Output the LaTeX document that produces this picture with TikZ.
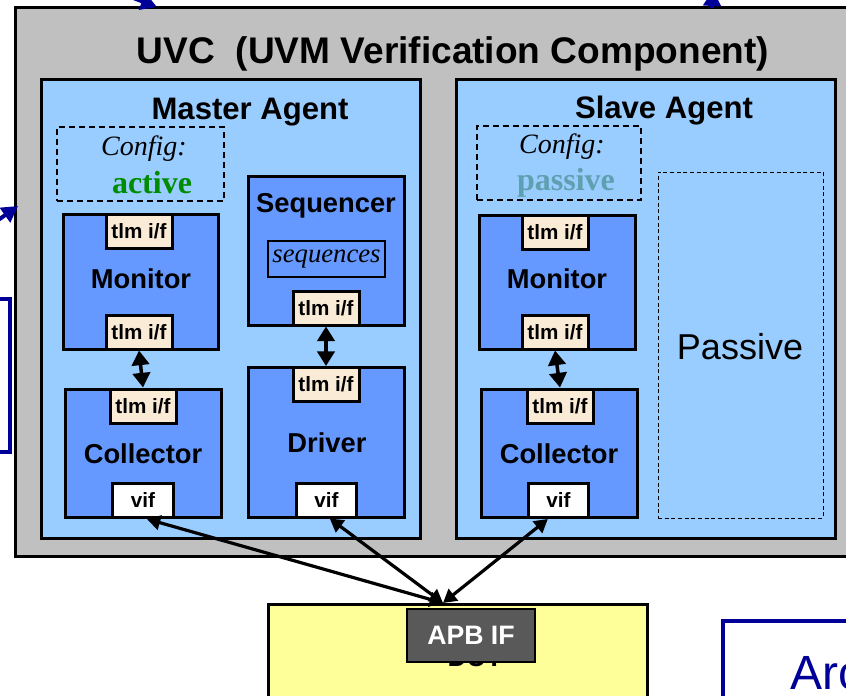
\documentclass[tikz,border=0pt]{standalone}
\usepackage{fontspec}
\setmainfont{Liberation Serif}
\setsansfont{Liberation Sans}
\usepackage{xcolor}
\usepackage{tikz}
\usetikzlibrary{arrows.meta,fit}
\definecolor{uvcgray}{HTML}{C0C0C0}
\definecolor{agentblue}{HTML}{99CCFF}
\definecolor{compblue}{HTML}{6699FF}
\definecolor{tlmcream}{HTML}{FAEBD7}
\definecolor{dutyellow}{HTML}{FFFF99}
\definecolor{apbgray}{HTML}{595959}
\definecolor{activegreen}{HTML}{008C00}
\definecolor{passiveteal}{HTML}{5FA0B0}
\definecolor{slideblue}{HTML}{000099}
\newcommand{\fs}[1]{\fontsize{#1}{#1}\selectfont}
\newcommand{\tlm}{tlm i/f}

\begin{document}
\begin{tikzpicture}[x=0.75pt,y=-0.75pt,
  frame/.style={draw,line width=2.25pt,inner sep=0pt},
  agent/.style={frame,fill=agentblue},
  comp/.style={frame,fill=compblue},
  cfgbox/.style={draw,line width=1.5pt,dash pattern=on 4.5pt off 3pt,inner sep=0pt},
  port/.style={frame,fill=tlmcream,minimum width=49.5pt,minimum height=25.5pt,
    font=\fs{15.5}\sffamily\bfseries},
  vifport/.style={port,fill=white,minimum width=45.5pt},
  lbl/.style={anchor=base,inner sep=0pt,font=\fs{20.5}\sffamily\bfseries},
  dbl/.style={line width=2.6pt,{Triangle[length=11pt,width=13pt]}-{Triangle[length=11pt,width=13pt]}},
  bus/.style={line width=2.4pt,{Triangle[length=10pt,width=11pt]}-{Triangle[length=10pt,width=11pt]}},
  slidearrow/.style={slideblue,line width=3pt,-{Triangle[length=12pt,width=13pt]}}]
\useasboundingbox (0,0) rectangle (846,696);
\clip (0,0) rectangle (846,696);

%% uvc
\node[frame,fill=uvcgray,fit={(15,7) (880,556)}] (uvc) {};
\node[lbl,font=\fs{27.8}\sffamily\bfseries] (uvctitle) at (453,63) {UVC\ \ (UVM Verification Component)};

%% agents
\node[agent,fit={(41,79) (420,538)}] (magent) {};
\node[agent,fit={(456,79) (835,538)}] (sagent) {};
\node[lbl,font=\fs{23.3}\sffamily\bfseries] (mtitle) at (250,119) {Master Agent};
\node[lbl,font=\fs{23.3}\sffamily\bfseries] (stitle) at (664,118) {Slave Agent};

%% config
\node[cfgbox,fit={(57,127) (224,201)}] (mcfg) {};
\node[cfgbox,fit={(477,126) (641,200)}] (scfg) {};
\node[lbl,font=\fs{21}\rmfamily\itshape] (mcfgtxt) at (144,155) {Config:};
\node[lbl,font=\fs{24}\rmfamily\bfseries,text=activegreen] (mmode) at (152,193) {active};
\node[lbl,font=\fs{21}\rmfamily\itshape] (scfgtxt) at (562,153) {Config:};
\node[lbl,font=\fs{24}\rmfamily\bfseries,text=passiveteal] (smode) at (566,190) {passive};

%% master monitor + collector
\node[comp,fit={(63,214) (218,349)}] (mmon) {};
\node[port] (mmontlmt) at (139,231) {\tlm};
\node[port] (mmontlmb) at (139,332) {\tlm};
\node[lbl] (mmonlbl) at (141,288) {Monitor};
\node[comp,fit={(65,389) (221,517)}] (mcol) {};
\node[port] (mcoltlm) at (143,406) {\tlm};
\node[vifport] (mcolvif) at (143,500.5) {vif};
\node[lbl] (mcollbl) at (143,463) {Collector};
\draw[dbl] (mmontlmb.south) -- (mcoltlm.north);

%% sequencer + driver
\node[comp,fit={(248,176) (404,325)}] (mseq) {};
\node[lbl] (mseqlbl) at (326,212) {Sequencer};
\node[draw,line width=1.5pt,fill=compblue,minimum width=87.75pt,minimum height=27pt,
  font=\fs{20}\rmfamily\itshape] (mseqs) at (326.5,259) {sequences};
\node[port] (mseqtlm) at (326,308) {\tlm};
\node[comp,fit={(248,367) (404,517)}] (mdrv) {};
\node[port] (mdrvtlm) at (326,384.5) {\tlm};
\node[vifport] (mdrvvif) at (326.5,500) {vif};
\node[lbl] (mdrvlbl) at (327,452) {Driver};
\draw[dbl] (mseqtlm.south) -- (mdrvtlm.north);

%% slave monitor + collector
\node[comp,fit={(479,215) (635,349)}] (smon) {};
\node[port] (smontlmt) at (555,232) {\tlm};
\node[port] (smontlmb) at (555,332) {\tlm};
\node[lbl] (smonlbl) at (557,288) {Monitor};
\node[comp,fit={(481,389) (637,517)}] (scol) {};
\node[port] (scoltlm) at (560,406) {\tlm};
\node[vifport] (scolvif) at (558.5,500.5) {vif};
\node[lbl] (scollbl) at (559,463) {Collector};
\draw[dbl] (smontlmb.south) -- (scoltlm.north);

%% passive slot
\node[draw,line width=0.75pt,dash pattern=on 3pt off 2pt,inner sep=0pt,fit={(658,172) (823,518)}] (spass) {};
\node[lbl,font=\fs{27}\sffamily] (spasslbl) at (740,359) {Passive};

%% dut
\node[frame,fill=dutyellow,fit={(268,604) (647,760)}] (dut) {};
\node[lbl,font=\fs{20}\sffamily\bfseries] (dutlbl) at (475,666) {DUT};
\node[draw,line width=1.5pt,fill=apbgray,minimum width=96pt,minimum height=39.75pt,
  text=white,font=\fs{20}\sffamily\bfseries] (apb) at (471,635.5) {APB IF};
\coordinate (apbtop) at (443,603);
\draw[bus] (mcolvif.-78) -- (apbtop);
\draw[bus] (mdrvvif.-80) -- (apbtop);
\draw[bus] (scolvif.-120) -- (apbtop);

%% rest of the slide
\node[draw=slideblue,line width=3pt,fill=white,inner sep=0pt,fit={(723,621) (900,760)}] (arcbox) {};
\node[anchor=base west,inner sep=0pt,text=slideblue,font=\fs{36}\sffamily] (arclbl) at (790,689) {Arc};
\node[draw=slideblue,line width=3pt,fill=white,inner sep=0pt,fit={(-40,299) (10,452)}] (leftbox) {};
\coordinate (tlstart) at (60,-30);
\coordinate (tlend) at (157,7);
\coordinate (trstart) at (712,8);
\coordinate (trend) at (713,-10);
\coordinate (lstart) at (-30,240);
\coordinate (lend) at (18,206);
\draw[slidearrow] (tlstart) -- (tlend);
\draw[slidearrow] (trstart) -- (trend);
\draw[slidearrow] (lstart) -- (lend);
\end{tikzpicture}
\end{document}
